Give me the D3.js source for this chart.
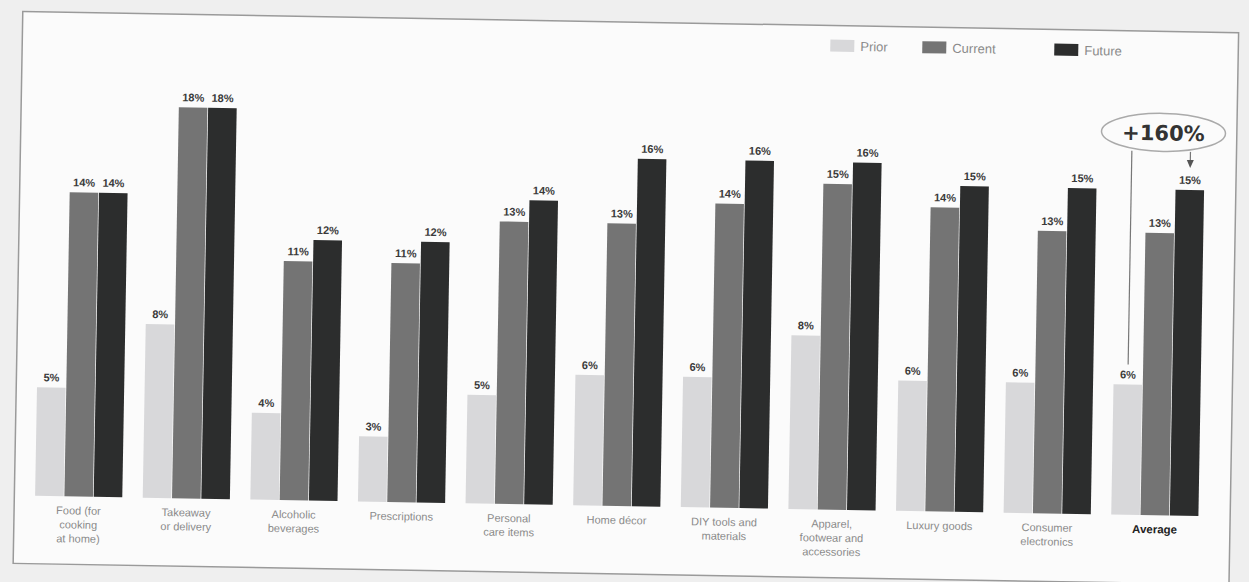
<!DOCTYPE html>
<html>
<head>
<meta charset="utf-8">
<script src="https://cdn.jsdelivr.net/npm/d3@7"></script>
<style>
  html, body { margin: 0; padding: 0; background: #efefef; }
  svg { display: block; }
</style>
</head>
<body>
<svg id="chart" width="1249" height="582"></svg>
<script>
// ---- data ----
const categories = [
  "Food (for|cooking|at home)",
  "Takeaway|or delivery",
  "Alcoholic|beverages",
  "Prescriptions",
  "Personal|care items",
  "Home décor",
  "DIY tools and|materials",
  "Apparel,|footwear and|accessories",
  "Luxury goods",
  "Consumer|electronics",
  "Average"
];
const seriesNames = ["Prior", "Current", "Future"];
const prior   = [5, 8, 4, 3, 5, 6, 6, 8, 6, 6, 6];
const current = [14, 18, 11, 11, 13, 13, 14, 15, 14, 13, 13];
const future  = [14, 18, 12, 12, 14, 16, 16, 16, 15, 15, 15];
const annotationText = "+160%";

const colors = ["#d8d8da", "#747474", "#2c2d2d"];

// ---- drawing ----
const svg = d3.select("#chart");

const g = svg.append("g").attr("transform", "rotate(1.0, 624, 291)");

// paper
g.append("rect")
  .attr("x", 18).attr("y", 22).attr("width", 1216).attr("height", 552)
  .attr("fill", "#fbfbfb").attr("stroke", "#9a9a9a").attr("stroke-width", 1.5);

const x0 = d3.scaleBand()
  .domain(d3.range(categories.length))
  .range([28, 1213])
  .paddingInner(0.19)
  .paddingOuter(0.1);

const x1 = d3.scaleBand()
  .domain(d3.range(3))
  .range([0, x0.bandwidth()])
  .paddingInner(0.025);

const y = d3.scaleLinear().domain([0, 18]).range([506, 115]);

const series = [prior, current, future];
const rows = categories.map((c, i) => ({ i, vals: series.map(s => s[i]) }));

const groups = g.selectAll("g.grp").data(rows).join("g")
  .attr("class", "grp")
  .attr("transform", d => `translate(${x0(d.i)},0)`);

groups.selectAll("rect").data(d => d.vals.map((v, k) => ({ v, k }))).join("rect")
  .attr("x", d => x1(d.k))
  .attr("width", x1.bandwidth())
  .attr("y", d => y(d.v))
  .attr("height", d => y(0) - y(d.v))
  .attr("fill", d => colors[d.k]);

groups.selectAll("text.val").data(d => d.vals.map((v, k) => ({ v, k }))).join("text")
  .attr("class", "val")
  .attr("x", d => x1(d.k) + x1.bandwidth() / 2)
  .attr("y", d => y(d.v) - 6)
  .attr("text-anchor", "middle")
  .attr("font-family", "Liberation Sans, Arial, sans-serif")
  .attr("font-weight", "bold")
  .attr("font-size", 11)
  .attr("fill", "#3a3a3a")
  .text(d => d.v + "%");

// category labels
groups.each(function (d) {
  const lines = categories[d.i].split("|");
  const isAvg = categories[d.i] === "Average";
  const t = d3.select(this).append("text")
    .attr("text-anchor", "middle")
    .attr("font-family", "Liberation Sans, Arial, sans-serif")
    .attr("font-size", isAvg ? 11.5 : 11)
    .attr("font-weight", isAvg ? "bold" : "normal")
    .attr("fill", isAvg ? "#222" : "#8a8a8a");
  lines.forEach((ln, j) => {
    t.append("tspan")
      .attr("x", x0.bandwidth() / 2)
      .attr("y", y(0) + 18 + j * 14)
      .text(ln);
  });
});

// legend
const legend = g.append("g").attr("transform", "translate(826,36)");
const legX = [0, 92, 224];
seriesNames.forEach((n, k) => {
  legend.append("rect")
    .attr("x", legX[k]).attr("y", 0).attr("width", 24).attr("height", 12)
    .attr("fill", colors[k]);
  legend.append("text")
    .attr("x", legX[k] + 30).attr("y", 11)
    .attr("font-family", "Liberation Sans, Arial, sans-serif")
    .attr("font-size", 13)
    .attr("fill", "#8a8a8a")
    .text(n);
});

// annotation on Average
const ai = categories.length - 1;
const gx = x0(ai);
const px = gx + x1(0) + x1.bandwidth() / 2;
const fx = gx + x1(2) + x1.bandwidth() / 2;
const ecx = (px + fx) / 2 + 2, ecy = 123;
g.append("ellipse")
  .attr("cx", ecx).attr("cy", ecy).attr("rx", 62).attr("ry", 19)
  .attr("fill", "none").attr("stroke", "#aaa").attr("stroke-width", 1.5);
g.append("text")
  .attr("x", ecx).attr("y", ecy + 8)
  .attr("text-anchor", "middle")
  .attr("font-family", "DejaVu Sans, sans-serif")
  .attr("font-weight", "bold")
  .attr("font-size", 21)
  .attr("fill", "#333")
  .text(annotationText);
g.append("line")
  .attr("x1", px).attr("x2", px)
  .attr("y1", ecy + 19).attr("y2", y(prior[ai]) - 20)
  .attr("stroke", "#777").attr("stroke-width", 1.2);
g.append("line")
  .attr("x1", fx).attr("x2", fx)
  .attr("y1", ecy + 19).attr("y2", y(future[ai]) - 26)
  .attr("stroke", "#777").attr("stroke-width", 1.2);
g.append("path")
  .attr("d", `M${fx - 3.5},${y(future[ai]) - 30} L${fx + 3.5},${y(future[ai]) - 30} L${fx},${y(future[ai]) - 22} Z`)
  .attr("fill", "#555");
</script>
</body>
</html>
